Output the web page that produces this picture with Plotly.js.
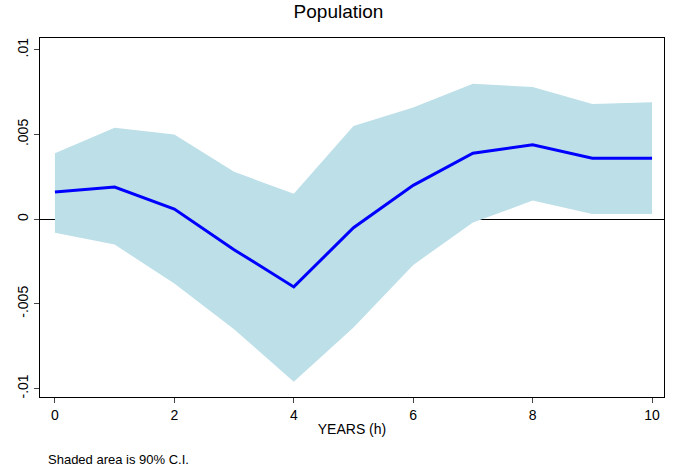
<!DOCTYPE html><html><head><script src="https://cdn.plot.ly/plotly-3.0.1.min.js"></script></head><body style="margin:0"><div id="c" style="width:677px;height:472px"></div><script>
const years=[0,1,2,3,4,5,6,7,8,9,10];
const irf=[0.0016,0.0019,0.0006,-0.0018,-0.004,-0.0005,0.002,0.0039,0.0044,0.0036,0.0036];
const upper=[0.0039,0.0054,0.005,0.0028,0.0015,0.0055,0.0066,0.008,0.0078,0.0068,0.0069];
const lower=[-0.0008,-0.0015,-0.0038,-0.0065,-0.0096,-0.0064,-0.0027,-0.0002,0.0011,0.0003,0.0003];
const ticksY=[-0.01,-0.005,0,0.005,0.01], ticksYText=['-.01','-.005','0','.005','.01'];
Plotly.newPlot('c',[
{x:years,y:lower,mode:'lines',line:{width:0},showlegend:false,hoverinfo:'skip'},
{x:years,y:upper,mode:'lines',line:{width:0},fill:'tonexty',fillcolor:'#bcdfe8',showlegend:false},
{x:years,y:irf,mode:'lines',line:{color:'#0000ff',width:3},showlegend:false}
],{
width:677,height:472,paper_bgcolor:'white',plot_bgcolor:'white',
margin:{l:40,r:13,t:38,b:75},
font:{family:'Liberation Sans, Arial',size:14,color:'black'},
title:{text:'Population',x:0.5,y:0.99,yanchor:'top',font:{size:19}},
xaxis:{range:[-0.25,10.2],tickvals:[0,2,4,6,8,10],ticks:'outside',ticklen:5,showgrid:false,zeroline:false,showline:true,mirror:true,linecolor:'black',linewidth:1,title:{text:'YEARS (h)',standoff:2,font:{size:14}}},
yaxis:{range:[-0.0105,0.0107],tickvals:ticksY,ticktext:ticksYText,tickangle:-90,ticks:'outside',ticklen:5,showgrid:false,zeroline:true,zerolinecolor:'black',zerolinewidth:1.2,showline:true,mirror:true,linecolor:'black',linewidth:1},
annotations:[{text:'Shaded area is 90% C.I.',xref:'paper',yref:'paper',x:0.01,y:-0.2,xanchor:'left',yanchor:'bottom',showarrow:false,font:{size:13}}]
},{displayModeBar:false});
</script></body></html>
